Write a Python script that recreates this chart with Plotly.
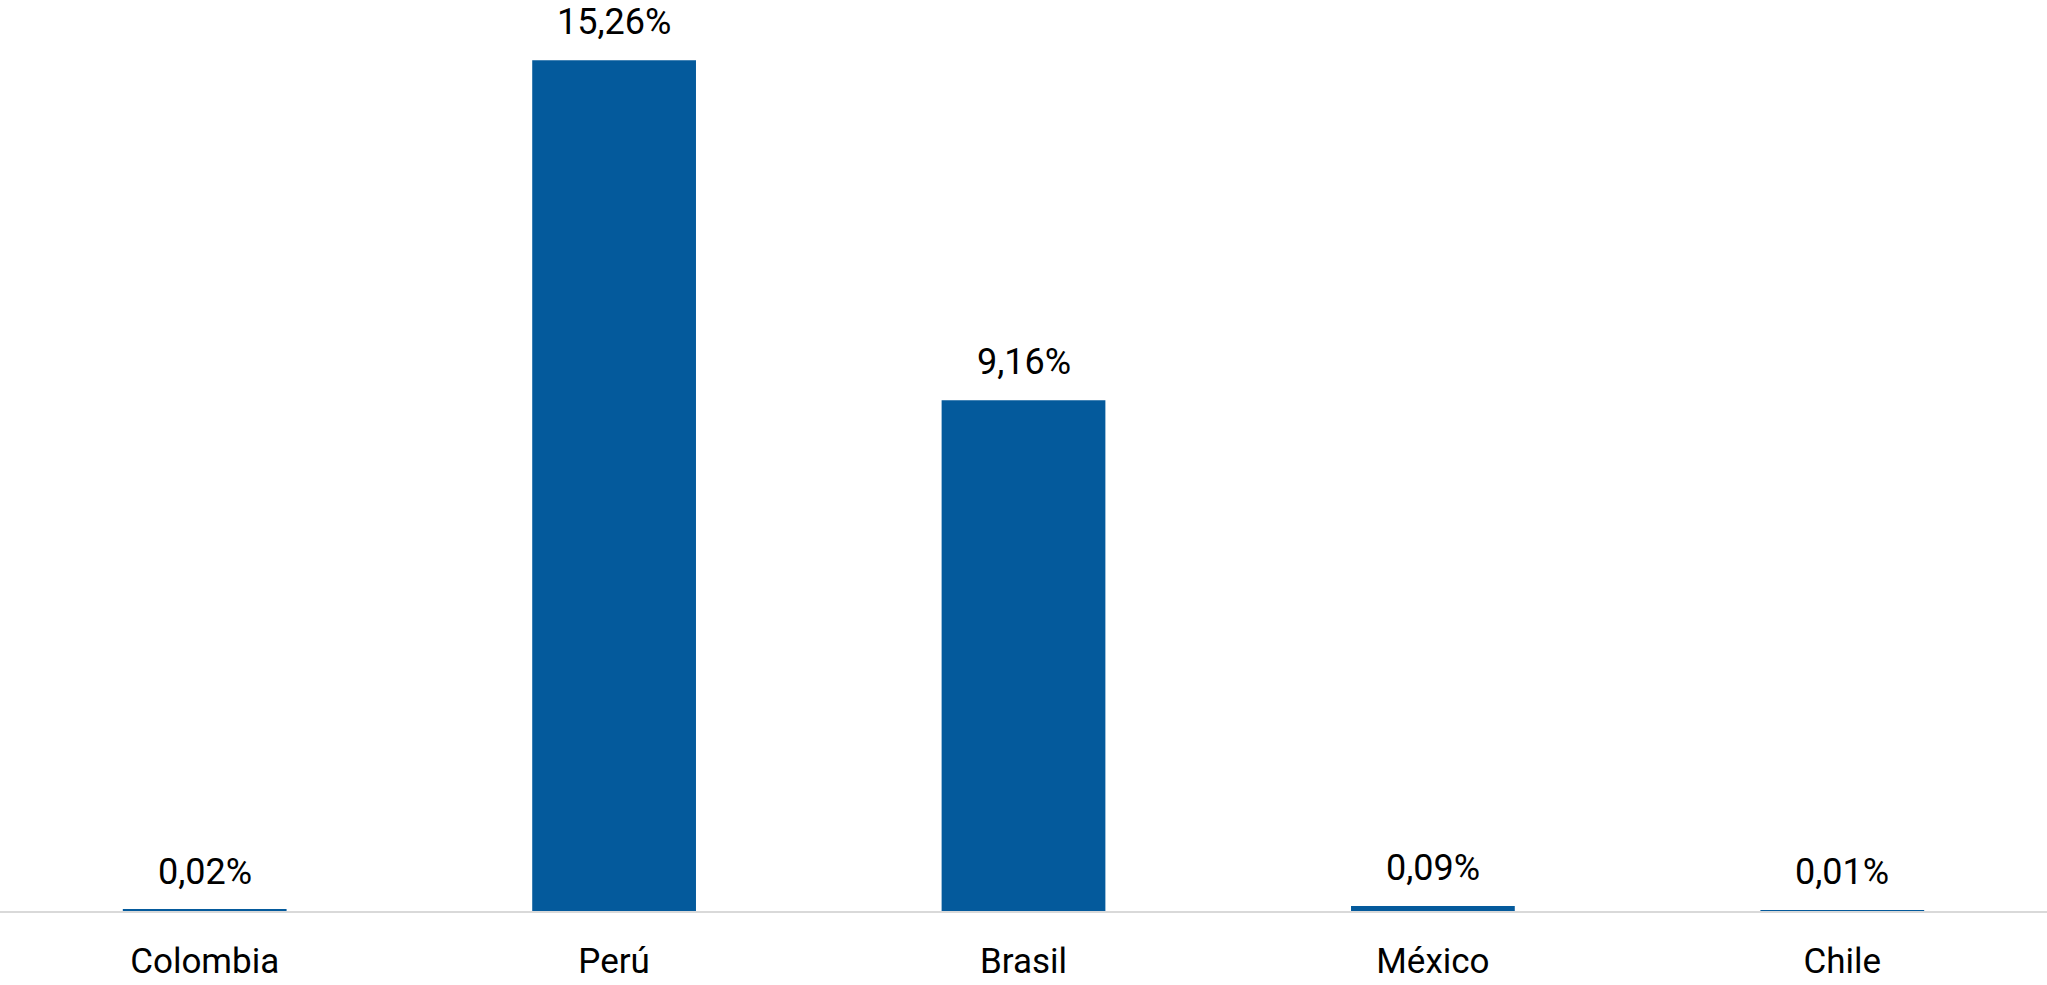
import plotly.graph_objects as go

countries = ["Colombia", "Perú", "Brasil", "México", "Chile"]
values = [0.02, 15.26, 9.16, 0.09, 0.01]
labels = ["0,02%", "15,26%", "9,16%", "0,09%", "0,01%"]

fig = go.Figure(go.Bar(
    x=countries, y=values,
    marker=dict(color="#045A9C", line=dict(width=0)),
    hoverinfo="x+y",
))
for c, v, t in zip(countries, values, labels):
    fig.add_annotation(
        x=c, y=v, text=t, showarrow=False,
        yanchor="bottom", yshift=15,
        font=dict(family="Roboto", size=36, color="#000000"),
    )
fig.update_layout(
    width=2047, height=985,
    margin=dict(l=0, r=0, t=0, b=74),
    paper_bgcolor="white", plot_bgcolor="white",
    bargap=0.6, showlegend=False,
)
fig.update_xaxes(
    showline=True, linecolor="#d9d9d9", linewidth=2,
    ticks="outside", ticklen=18, tickcolor="rgba(0,0,0,0)",
    tickfont=dict(family="Roboto", size=35, color="#000000"),
    showgrid=False,
)
fig.update_yaxes(range=[0, 16.34], visible=False, showgrid=False)
fig.write_html("out.html")
